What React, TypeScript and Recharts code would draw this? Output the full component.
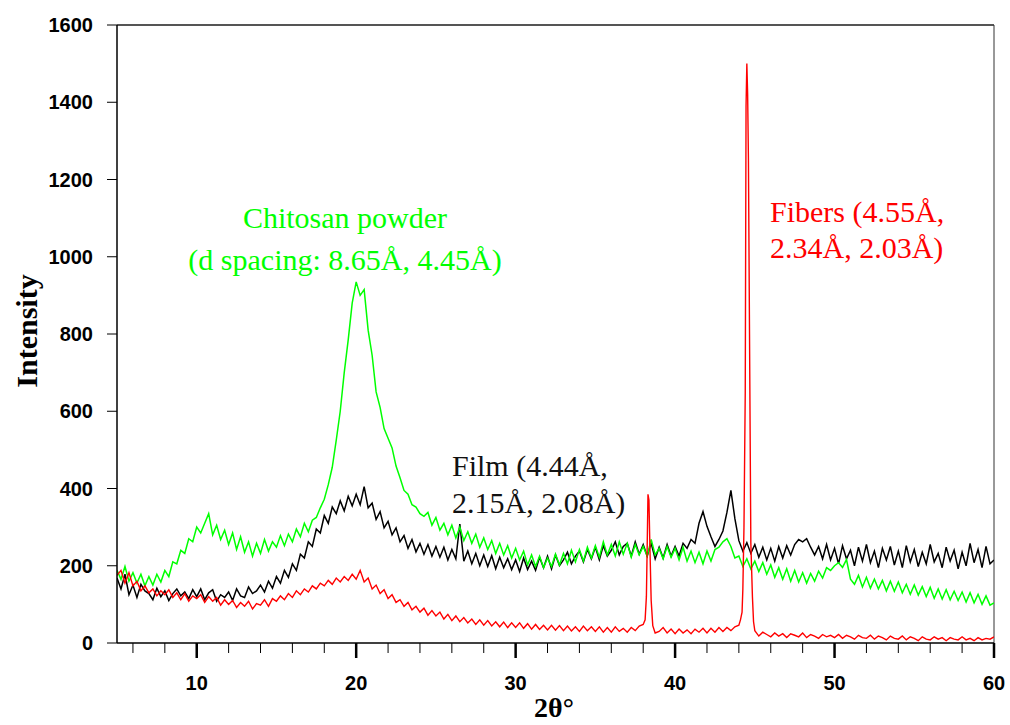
import { CartesianGrid, Line, LineChart, ReferenceLine, XAxis, YAxis } from "recharts";

// 2θ sampling grid (degrees)
const twoTheta = [
  5, 5.25, 5.5, 5.75, 6, 6.25, 6.5, 6.75, 7, 7.25, 7.5, 7.75, 8, 8.25, 8.5, 8.75, 9, 9.25, 9.5, 9.75,
  10, 10.25, 10.5, 10.75, 11, 11.25, 11.5, 11.75, 12, 12.25, 12.5, 12.75, 13, 13.25, 13.5, 13.75, 14, 14.25, 14.5, 14.75,
  15, 15.25, 15.5, 15.75, 16, 16.25, 16.5, 16.75, 17, 17.25, 17.5, 17.75, 18, 18.25, 18.5, 18.75, 19, 19.25, 19.5, 19.75,
  20, 20.25, 20.5, 20.75, 21, 21.25, 21.5, 21.75, 22, 22.25, 22.5, 22.75, 23, 23.25, 23.5, 23.75, 24, 24.25, 24.5, 24.75,
  25, 25.25, 25.5, 25.75, 26, 26.25, 26.5, 26.75, 27, 27.25, 27.5, 27.75, 28, 28.25, 28.5, 28.75, 29, 29.25, 29.5, 29.75,
  30, 30.25, 30.5, 30.75, 31, 31.25, 31.5, 31.75, 32, 32.25, 32.5, 32.75, 33, 33.25, 33.5, 33.75, 34, 34.25, 34.5, 34.75,
  35, 35.25, 35.5, 35.75, 36, 36.25, 36.5, 36.75, 37, 37.25, 37.5, 37.75, 38, 38.25, 38.5, 38.75, 39, 39.25, 39.5, 39.75,
  40, 40.25, 40.5, 40.75, 41, 41.25, 41.5, 41.75, 42, 42.25, 42.5, 42.75, 43, 43.25, 43.5, 43.75, 44, 44.25, 44.5, 44.75,
  45, 45.25, 45.5, 45.75, 46, 46.25, 46.5, 46.75, 47, 47.25, 47.5, 47.75, 48, 48.25, 48.5, 48.75, 49, 49.25, 49.5, 49.75,
  50, 50.25, 50.5, 50.75, 51, 51.25, 51.5, 51.75, 52, 52.25, 52.5, 52.75, 53, 53.25, 53.5, 53.75, 54, 54.25, 54.5, 54.75,
  55, 55.25, 55.5, 55.75, 56, 56.25, 56.5, 56.75, 57, 57.25, 57.5, 57.75, 58, 58.25, 58.5, 58.75, 59, 59.25, 59.5, 59.75,
  60,
];

// Chitosan powder (green)
const powder = [
  188, 165, 198, 160, 182, 155, 178, 148, 172, 150, 178, 158, 188, 172, 210, 205, 240, 232, 270, 262,
  300, 285, 310, 335, 280, 305, 268, 292, 255, 285, 242, 275, 235, 262, 225, 258, 232, 268, 238, 262,
  248, 278, 252, 282, 262, 295, 275, 310, 288, 318, 325, 350, 372, 410, 455, 525, 600, 700, 785, 880,
  935, 900, 915, 810, 745, 650, 610, 555, 530, 505, 458, 428, 395, 385, 358, 352, 335, 328, 338, 305,
  325, 292, 310, 280, 305, 272, 300, 265, 288, 258, 282, 248, 272, 242, 265, 232, 258, 228, 252, 220,
  245, 215, 238, 202, 228, 198, 225, 195, 220, 198, 230, 202, 232, 205, 240, 210, 242, 212, 248, 220,
  252, 222, 262, 228, 255, 225, 262, 230, 258, 222, 255, 228, 250, 225, 268, 228, 245, 218, 250, 222,
  245, 215, 248, 212, 238, 208, 235, 205, 238, 212, 242, 248, 262, 270, 250, 220, 225, 198, 218, 192,
  212, 185, 208, 178, 202, 170, 195, 165, 192, 160, 188, 158, 182, 155, 180, 160, 186, 168, 195, 188,
  200, 208, 196, 216, 165, 152, 175, 145, 170, 142, 165, 140, 162, 135, 160, 134, 158, 130, 152, 126,
  150, 124, 146, 120, 144, 116, 140, 114, 138, 112, 134, 110, 132, 106, 130, 104, 126, 100, 122, 98,
  104,
];

// Film (black)
const film = [
  168, 140, 178, 125, 150, 118, 152, 135, 128, 112, 142, 120, 135, 110, 128, 140, 122, 132, 115, 138,
  120, 140, 112, 130, 138, 108, 125, 118, 132, 110, 140, 122, 118, 145, 128, 135, 150, 132, 160, 142,
  172, 155, 188, 170, 205, 188, 230, 220, 262, 250, 295, 285, 330, 310, 352, 335, 368, 342, 380, 355,
  385, 358, 405, 350, 362, 320, 340, 298, 315, 280, 298, 262, 278, 245, 268, 236, 258, 230, 255, 225,
  250, 222, 248, 215, 242, 218, 308, 212, 238, 205, 232, 200, 228, 198, 226, 192, 222, 195, 218, 190,
  215, 185, 220, 190, 212, 188, 222, 195, 225, 192, 228, 200, 215, 235, 205, 225, 238, 210, 242, 218,
  248, 215, 252, 225, 240, 262, 228, 250, 258, 225, 262, 230, 255, 225, 258, 218, 248, 220, 255, 225,
  250, 225, 258, 245, 268, 258, 310, 340, 302, 275, 250, 268, 290, 338, 395, 322, 265, 238, 260, 232,
  255, 222, 248, 215, 245, 212, 250, 220, 252, 228, 255, 268, 262, 270, 248, 228, 250, 218, 255, 215,
  245, 205, 252, 218, 240, 200, 248, 212, 255, 208, 238, 195, 245, 215, 250, 202, 238, 195, 252, 210,
  242, 198, 235, 205, 255, 210, 232, 195, 248, 212, 240, 192, 235, 200, 258, 208, 242, 195, 250, 205,
  215,
];

// Fibers (red)
const fibers = [
  175, 188, 155, 182, 148, 160, 135, 148, 130, 140, 122, 135, 125, 138, 118, 130, 112, 128, 108, 122,
  115, 125, 105, 120, 108, 118, 98, 112, 100, 110, 92, 105, 95, 108, 88, 102, 98, 112, 95, 115,
  108, 122, 112, 128, 118, 135, 125, 140, 132, 148, 140, 155, 148, 162, 152, 168, 158, 172, 162, 178,
  165, 188, 158, 168, 140, 150, 128, 138, 115, 125, 105, 112, 95, 105, 86, 95, 80, 90, 72, 84,
  70, 80, 62, 74, 58, 70, 55, 66, 52, 62, 48, 60, 46, 58, 44, 55, 42, 54, 40, 52,
  40, 52, 38, 50, 36, 48, 35, 46, 34, 46, 33, 45, 32, 44, 31, 42, 30, 44, 32, 42,
  30, 42, 28, 40, 28, 42, 30, 38, 28, 40, 32, 44, 48, 250, 110, 26, 30, 40, 26, 36,
  24, 36, 26, 34, 24, 36, 28, 38, 26, 38, 28, 40, 30, 40, 32, 42, 46, 140, 1500, 260,
  32, 18, 28, 22, 16, 26, 18, 24, 14, 24, 20, 16, 26, 14, 22, 18, 12, 22, 16, 20,
  14, 22, 12, 20, 16, 10, 20, 14, 12, 20, 10, 18, 14, 8, 18, 12, 10, 18, 8, 16,
  12, 6, 16, 10, 8, 16, 10, 14, 6, 14, 10, 8, 16, 8, 12, 6, 14, 8, 12, 10,
  16,
];

// extra samples across the two sharp fiber reflections
const fiberPeakAngles = [38.12, 38.2, 38.3, 38.36, 38.42, 38.6, 44.1, 44.2, 44.32, 44.4, 44.45, 44.55, 44.6, 44.66, 44.85, 44.92];
const fiberPeakValues = [60, 120, 385, 370, 250, 45, 60, 80, 300, 650, 1390, 1420, 1250, 850, 120, 55];

const xTicks = [6, 8, 10, 12, 14, 16, 18, 20, 22, 24, 26, 28, 30, 32, 34, 36, 38, 40, 42, 44, 46, 48, 50, 52, 54, 56, 58, 60];
const yTicks = [0, 200, 400, 600, 800, 1000, 1200, 1400, 1600];

const toPoints = (angles: number[], values: number[]) => angles.map((a, i) => ({ angle: a, value: values[i] }));

const powderData = toPoints(twoTheta, powder);
const filmData = toPoints(twoTheta, film);
const fiberData = [...toPoints(twoTheta, fibers), ...toPoints(fiberPeakAngles, fiberPeakValues)].sort((a, b) => a.angle - b.angle);

const tickFont = { fontFamily: "'Liberation Sans', Arial, sans-serif", fontWeight: 700, fontSize: 20, fill: "#000" };
const serif = "'Liberation Serif', 'Times New Roman', serif";

function XTick(props: any) {
  const { x, y, payload } = props;
  const major = payload.value % 10 === 0;
  return (
    <g>
      <line x1={x} x2={x} y1={y} y2={y + (major ? 15 : 10)} stroke="#000" strokeWidth={major ? 2.5 : 1} />
      {major && (
        <text x={x} y={y + 47} textAnchor="middle" {...tickFont}>
          {payload.value}
        </text>
      )}
    </g>
  );
}

export default function App() {
  return (
    <div style={{ position: "absolute", left: 0, top: 0, width: 1010, height: 725, background: "#fff" }}>
      <LineChart width={1010} height={725} margin={{ top: 25, right: 16, bottom: 0, left: 17 }}>
        <CartesianGrid stroke="none" />
        <XAxis
          dataKey="angle"
          type="number"
          domain={[5, 60]}
          ticks={xTicks}
          allowDataOverflow
          height={82}
          tickSize={0}
          tickMargin={0}
          tick={<XTick />}
          axisLine={{ stroke: "#000", strokeWidth: 1.5 }}
          interval={0}
        />
        <YAxis
          type="number"
          domain={[0, 1600]}
          ticks={yTicks}
          width={100}
          tickSize={10}
          tickMargin={14}
          tick={tickFont}
          tickLine={{ stroke: "#000", strokeWidth: 1 }}
          axisLine={{ stroke: "#000", strokeWidth: 1.5 }}
          interval={0}
        />
        <ReferenceLine y={1600} stroke="#555" strokeWidth={2} />
        <ReferenceLine x={60} stroke="#333" strokeWidth={1} />
        <Line data={filmData} dataKey="value" stroke="#000000" strokeWidth={1.5} dot={false} type="linear" isAnimationActive={false} />
        <Line data={powderData} dataKey="value" stroke="#00ff00" strokeWidth={1.5} dot={false} type="linear" isAnimationActive={false} />
        <Line data={fiberData} dataKey="value" stroke="#ff0000" strokeWidth={1.4} dot={false} type="linear" isAnimationActive={false} />
      </LineChart>
      <svg width={1010} height={725} style={{ position: "absolute", left: 0, top: 0, pointerEvents: "none" }}>
        <text x={26} y={331} transform="rotate(-90 26 331)" textAnchor="middle" dominantBaseline="central" fontFamily={serif} fontWeight={700} fontSize={30} fill="#000">
          Intensity
        </text>
        <text x={554} y={717} textAnchor="middle" fontFamily={serif} fontWeight={700} fontSize={28} fill="#000">
          2θ°
        </text>
        <g fontFamily={serif} fontSize={30}>
          <text x={345} y={228} textAnchor="middle" fill="#00ff00">Chitosan powder</text>
          <text x={345} y={270} textAnchor="middle" fill="#00ff00">(d spacing: 8.65Å, 4.45Å)</text>
          <text x={452} y={476} fill="#111">Film (4.44Å,</text>
          <text x={452} y={513} fill="#111">2.15Å, 2.08Å)</text>
          <text x={770} y={222} fill="#ff0000">Fibers (4.55Å,</text>
          <text x={770} y={258} fill="#ff0000">2.34Å, 2.03Å)</text>
        </g>
      </svg>
    </div>
  );
}
